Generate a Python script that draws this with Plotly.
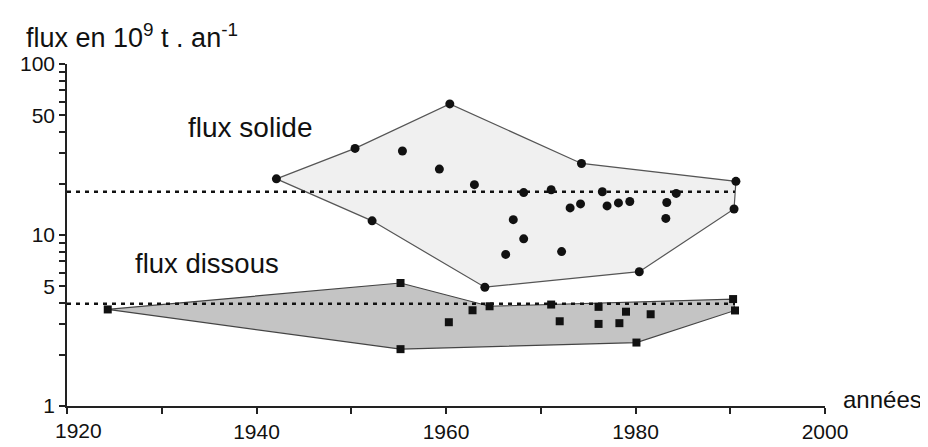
import plotly.graph_objects as go

# flux solide (circles): year, flux in 10^9 t/an
solid_years = [1942.1, 1950.4, 1952.2, 1955.4, 1959.3, 1960.4, 1963.0, 1964.1, 1966.3,
               1967.1, 1968.2, 1968.2, 1971.1, 1972.2, 1973.1, 1974.2, 1974.3, 1976.5,
               1977.0, 1978.2, 1979.4, 1980.4, 1983.2, 1983.3, 1984.3, 1990.4, 1990.6]
solid_vals = [21.3, 32.1, 12.1, 31.0, 24.3, 58.4, 19.7, 4.95, 7.7,
              12.3, 17.7, 9.5, 18.4, 8.0, 14.4, 15.2, 26.2, 17.9,
              14.8, 15.4, 15.7, 6.1, 12.5, 15.5, 17.5, 14.2, 20.6]
solid_hull = [0, 1, 5, 16, 26, 25, 21, 7, 2, 0]
solid_mean = 17.9

# flux dissous (squares)
diss_years = [1924.3, 1955.2, 1955.2, 1960.3, 1962.8, 1964.6, 1971.1, 1972.0,
              1976.1, 1976.1, 1978.3, 1979.0, 1980.1, 1981.6, 1990.3, 1990.5]
diss_vals = [3.67, 5.24, 2.15, 3.09, 3.63, 3.83, 3.92, 3.13,
             3.80, 3.02, 3.05, 3.56, 2.35, 3.44, 4.22, 3.62]
diss_hull = [0, 1, 5, 14, 15, 12, 2, 0]
diss_mean = 3.96

mean_span = [1920, 1990.5]

x_ticks = [1920, 1940, 1960, 1980, 2000]
y_ticks = [1, 5, 10, 50, 100]
y_minor = [2, 3, 4, 6, 7, 8, 9, 20, 30, 40, 60, 70, 80, 90]

FONT = "Liberation Sans, Arial, Helvetica, sans-serif"
INK = '#111111'

fig = go.Figure()

# enveloppes
fig.add_trace(go.Scatter(
    x=[solid_years[i] for i in solid_hull],
    y=[solid_vals[i] for i in solid_hull],
    mode='lines', fill='toself', fillcolor='#f0f0f0',
    line=dict(color='#555555', width=1.2),
    hoverinfo='skip', showlegend=False
))
fig.add_trace(go.Scatter(
    x=[diss_years[i] for i in diss_hull],
    y=[diss_vals[i] for i in diss_hull],
    mode='lines', fill='toself', fillcolor='#c4c4c4',
    line=dict(color='#444444', width=1.2),
    hoverinfo='skip', showlegend=False
))

# moyennes (pointillés)
for m in (solid_mean, diss_mean):
    fig.add_trace(go.Scatter(
        x=mean_span, y=[m, m], mode='lines',
        line=dict(color=INK, width=2.5, dash='4px,5px'),
        hoverinfo='skip', showlegend=False
    ))

# points
fig.add_trace(go.Scatter(
    x=solid_years, y=solid_vals, mode='markers',
    marker=dict(symbol='circle', size=9, color=INK),
    showlegend=False
))
fig.add_trace(go.Scatter(
    x=diss_years, y=diss_vals, mode='markers',
    marker=dict(symbol='square', size=8, color=INK),
    showlegend=False
))

# 1920 label is drawn a bit to the right of its tick in the original
x_text = ['' if v == 1920 else str(v) for v in x_ticks]

fig.update_layout(
    width=928, height=447,
    margin=dict(l=58, r=111, t=56, b=37),
    paper_bgcolor='white', plot_bgcolor='white',
    font=dict(family=FONT, size=21, color=INK),
    showlegend=False,
    xaxis=dict(
        range=[1920, 2000], tickvals=x_ticks, ticktext=x_text,
        showgrid=False, zeroline=False, showline=True, linecolor='#222222', linewidth=1.5,
        ticks='outside', ticklen=6, tickwidth=1.5, tickcolor='#222222',
        minor=dict(dtick=10, tick0=1920, ticks='outside', ticklen=6, tickwidth=1.5,
                   tickcolor='#222222', showgrid=False),
        tickfont=dict(size=21),
    ),
    yaxis=dict(
        type='log', range=[0, 2], tickvals=y_ticks, ticktext=[str(v) for v in y_ticks],
        showgrid=False, zeroline=False, showline=True, linecolor='#222222', linewidth=1.5,
        ticks='outside', ticklen=6, tickwidth=1.5, tickcolor='#222222',
        minor=dict(tickvals=y_minor, ticks='outside', ticklen=6, tickwidth=1.5,
                   tickcolor='#222222', showgrid=False),
        tickfont=dict(size=21),
    ),
    annotations=[
        dict(text="1920", xref='x', yref='paper', x=1921.2, y=-0.031,
             xanchor='center', yanchor='top', showarrow=False, font=dict(size=21)),
        dict(text="flux en 10<sup>9</sup> t . an<sup>-1</sup>", xref='paper', yref='paper',
             x=-0.057, y=1.082, xanchor='left', yanchor='middle', showarrow=False,
             font=dict(size=27)),
        dict(text="années", xref='paper', yref='paper', x=1.021, y=0.02,
             xanchor='left', yanchor='middle', showarrow=False, font=dict(size=24)),
        dict(text="flux solide", xref='paper', yref='paper', x=(242 - 58) / 759,
             y=(410 - 122) / 354, xanchor='center', yanchor='middle', showarrow=False,
             font=dict(size=28)),
        dict(text="flux dissous", xref='paper', yref='paper', x=(198 - 58) / 759,
             y=(410 - 263) / 354, xanchor='center', yanchor='middle', showarrow=False,
             font=dict(size=27.5)),
    ],
)

fig.write_html("out.html")
